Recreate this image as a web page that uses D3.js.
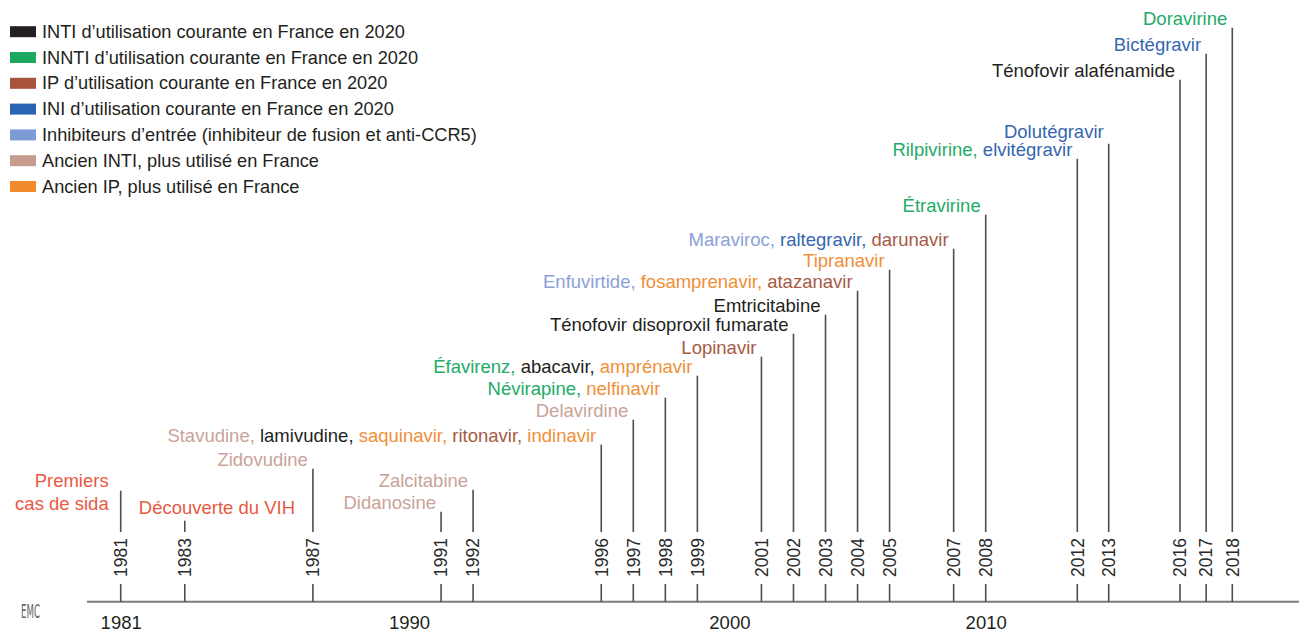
<!DOCTYPE html>
<html>
<head>
<meta charset="utf-8">
<script src="https://cdn.jsdelivr.net/npm/d3@7"></script>
<style>
  body { margin: 0; background: #fff; }
  svg { display: block; font-family: "Liberation Sans", Arial, Helvetica, sans-serif; }
</style>
</head>
<body>
<svg id="chart" width="1301" height="632"></svg>
<script>
const width = 1301, height = 632;

// legend categories
const categories = ["inti", "innti", "ip", "ini", "entry", "oldInti", "oldIp"];
const legendLabels = [
    "INTI d\u2019utilisation courante en France en 2020",
    "INNTI d\u2019utilisation courante en France en 2020",
    "IP d\u2019utilisation courante en France en 2020",
    "INI d\u2019utilisation courante en France en 2020",
    "Inhibiteurs d\u2019entr\u00e9e (inhibiteur de fusion et anti-CCR5)",
    "Ancien INTI, plus utilis\u00e9 en France",
    "Ancien IP, plus utilis\u00e9 en France"
];

// events on the timeline
const years = [1981, 1983, 1987, 1991, 1992, 1996, 1997, 1998, 1999, 2001, 2002,
    2003, 2004, 2005, 2007, 2008, 2012, 2013, 2016, 2017, 2018];
// height of each stem above the axis
const stemLevel = [111, 81, 133, 90, 112, 157, 182, 204, 226, 245, 268,
    287, 311, 332, 353, 387, 443, 458, 522, 548, 574];
// each label = lines, each line = [text, category] segments
const labels = [
    [[["Premiers", "evt"]], [["cas de sida", "evt"]]],
    [[["D\u00e9couverte du VIH", "evt"]]],
    [[["Zidovudine", "oldInti"]]],
    [[["Didanosine", "oldInti"]]],
    [[["Zalcitabine", "oldInti"]]],
    [[["Stavudine, ", "oldInti"], ["lamivudine, ", "inti"], ["saquinavir, ", "oldIp"], ["ritonavir, ", "ip"], ["indinavir", "oldIp"]]],
    [[["Delavirdine", "oldInti"]]],
    [[["N\u00e9virapine, ", "innti"], ["nelfinavir", "oldIp"]]],
    [[["\u00c9favirenz, ", "innti"], ["abacavir, ", "inti"], ["ampr\u00e9navir", "oldIp"]]],
    [[["Lopinavir", "ip"]]],
    [[["T\u00e9nofovir disoproxil fumarate", "inti"]]],
    [[["Emtricitabine", "inti"]]],
    [[["Enfuvirtide, ", "entry"], ["fosamprenavir, ", "oldIp"], ["atazanavir", "ip"]]],
    [[["Tipranavir", "oldIp"]]],
    [[["Maraviroc, ", "entry"], ["raltegravir, ", "ini"], ["darunavir", "ip"]]],
    [[["\u00c9travirine", "innti"]]],
    [[["Rilpivirine, ", "innti"], ["elvit\u00e9gravir", "ini"]]],
    [[["Dolut\u00e9gravir", "ini"]]],
    [[["T\u00e9nofovir alaf\u00e9namide", "inti"]]],
    [[["Bict\u00e9gravir", "ini"]]],
    [[["Doravirine", "innti"]]]
];
const axisTicks = [1981, 1990, 2000, 2010];

const swatch = d3.scaleOrdinal()
    .domain(categories)
    .range(["#231f20", "#1ca85f", "#a8533b", "#2a63b1", "#7f9bd6", "#c79c90", "#f08b2c"]);
const textColor = d3.scaleOrdinal()
    .domain(categories.concat(["evt"]))
    .range(["#231f20", "#22ab66", "#a65a44", "#3566b0", "#8aa1d8", "#c9a398", "#ef8f38", "#e85a43"]);

const axisY = 601.7;

// schematic time scale (compressed after 2008)
const x = d3.scaleLinear()
    .domain([1981, 2008, 2012, 2013, 2016, 2018])
    .range([120.7, 985.7, 1077.3, 1108.7, 1180, 1232.3]);
const axisScale = d3.scaleLinear()
    .domain([1981, 2000, 2010])
    .range([x(1981), x(2000), x(2008)]);
const y = d3.scaleLinear()
    .domain([0, 600])
    .range([axisY, axisY - 600]);

const svg = d3.select("#chart");

// legend
const legend = svg.append("g").attr("class", "legend");
const rows = legend.selectAll("g")
    .data(categories)
    .enter().append("g")
    .attr("transform", (d, i) => `translate(0, ${31.7 + i * 25.8})`);
rows.append("rect")
    .attr("x", 10).attr("y", -5.5)
    .attr("width", 26).attr("height", 11)
    .style("fill", d => swatch(d));
rows.append("text")
    .attr("x", 42).attr("y", 6)
    .style("font-size", "18.2px")
    .style("fill", "#231f20")
    .text((d, i) => legendLabels[i]);

// main axis line
svg.append("line")
    .attr("x1", 87).attr("x2", 1299)
    .attr("y1", axisY).attr("y2", axisY)
    .style("stroke", "#7a7a7a")
    .style("stroke-width", 2);

// bottom axis labels
const axis = d3.axisBottom(axisScale)
    .tickValues(axisTicks)
    .tickSize(0)
    .tickPadding(14.5)
    .tickFormat(d3.format("d"));
const gAxis = svg.append("g")
    .attr("transform", `translate(0, ${axisY})`)
    .call(axis);
gAxis.select(".domain").remove();
gAxis.selectAll("text")
    .style("font-size", "18.5px")
    .style("font-family", "'Liberation Sans', Arial, sans-serif")
    .style("fill", "#231f20");

// special label placements
const placement = {
    1981: {anchor: "end", dx: -12, dy: [-4, 19]},
    1983: {anchor: "start", dx: -46, dy: [-7]},
    2013: {anchor: "end", dx: -5, dy: [-6]}
};

const events = years.map((yr, i) => ({year: yr, level: stemLevel[i], lines: labels[i]}));

const ev = svg.append("g").attr("class", "events")
    .selectAll("g")
    .data(events)
    .enter().append("g");

ev.append("line")
    .attr("x1", d => x(d.year)).attr("x2", d => x(d.year))
    .attr("y1", d => y(d.level)).attr("y2", axisY)
    .style("stroke", "#4d4d4d")
    .style("stroke-width", 1.6);

// white gap behind rotated year
ev.append("rect")
    .attr("x", d => x(d.year) - 10).attr("y", 532)
    .attr("width", 20).attr("height", 52)
    .style("fill", "#fff");

ev.append("text")
    .attr("transform", d => `translate(${x(d.year)}, 557.5) rotate(-90)`)
    .attr("text-anchor", "middle")
    .attr("dy", "0.36em")
    .style("font-size", "17.5px")
    .style("fill", "#2b2b2b")
    .text(d => d.year);

ev.each(function (d) {
    const p = placement[d.year] || {anchor: "end", dx: -5, dy: [-3]};
    const g = d3.select(this);
    d.lines.forEach(function (line, li) {
        const t = g.append("text")
            .attr("x", x(d.year) + p.dx)
            .attr("y", y(d.level) + p.dy[li])
            .attr("text-anchor", p.anchor)
            .style("font-size", "18.5px");
        t.selectAll("tspan")
            .data(line)
            .enter().append("tspan")
            .style("fill", s => textColor(s[1]))
            .style("white-space", "pre")
            .text(s => s[0]);
    });
});

// publisher mark
svg.append("text")
    .attr("x", 21).attr("y", 618)
    .attr("textLength", 19)
    .attr("lengthAdjust", "spacingAndGlyphs")
    .style("font-size", "19px")
    .style("font-family", "'DejaVu Sans Condensed', sans-serif")
    .style("font-weight", "200")
    .style("fill", "#666")
    .text("EMC");
</script>
</body>
</html>
